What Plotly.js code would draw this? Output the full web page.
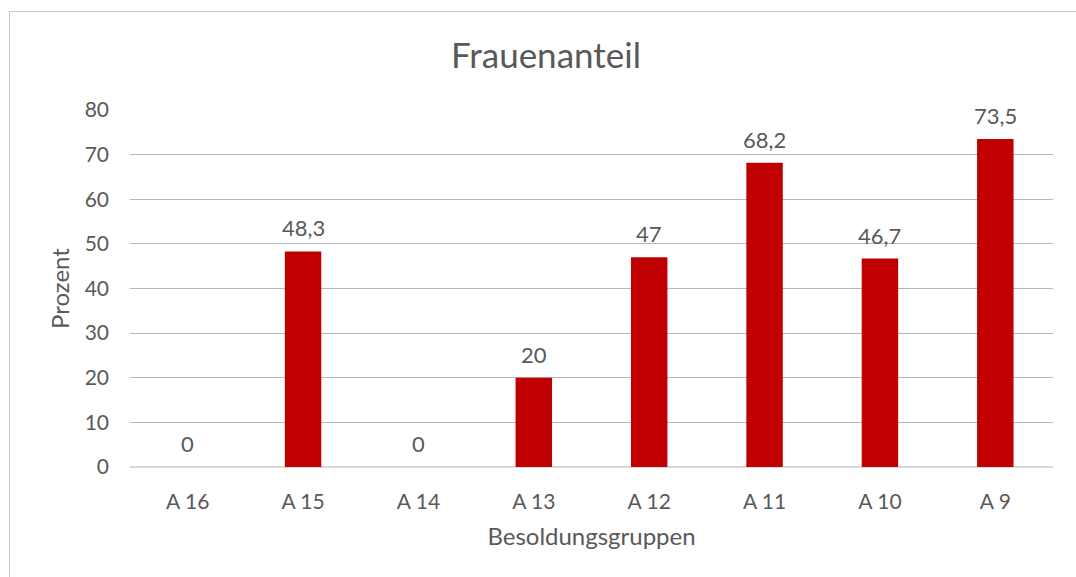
<!DOCTYPE html>
<html>
<head>
<meta charset="utf-8">
<script src="https://cdn.plot.ly/plotly-3.0.1.min.js"></script>
<style>
  body { margin: 0; background: #fff; }
  #frame { position: absolute; left: 9px; top: 11px; width: 1067px; height: 566px;
           border-left: 1px solid #c8c8c8; border-top: 1px solid #c8c8c8; }
  #chart { position: absolute; left: 0; top: 0; width: 1076px; height: 577px; }
</style>
</head>
<body>
<div id="frame"></div>
<div id="chart"></div>
<script>
var categories = ['A 16', 'A 15', 'A 14', 'A 13', 'A 12', 'A 11', 'A 10', 'A 9'];
var shares = [0, 48.3, 0, 20, 47, 68.2, 46.7, 73.5];
var yTicks = [0, 10, 20, 30, 40, 50, 60, 70, 80];

var textColor = '#595959';
var font = 'Lato, "Open Sans", sans-serif';

// Beschriftungen über den Balken (Komma als Dezimaltrennzeichen)
var labels = shares.map(function (v, i) {
  return {
    x: categories[i], y: v, xref: 'x', yref: 'y',
    text: String(v).replace('.', ','),
    showarrow: false, yanchor: 'bottom', yshift: 8,
    font: { family: font, size: 22, color: textColor }
  };
});

var data = [{
  type: 'bar',
  x: categories,
  y: shares,
  marker: { color: '#c00000' },
  hoverinfo: 'x+y'
}];

var layout = {
  width: 1076, height: 577,
  paper_bgcolor: 'rgba(0,0,0,0)', plot_bgcolor: 'rgba(0,0,0,0)',
  margin: { l: 130, r: 23, t: 110, b: 110 },
  bargap: 0.684,
  showlegend: false,
  separators: ',.',
  title: { text: 'Frauenanteil', x: 0.5074, xanchor: 'center', y: 0.903, yanchor: 'middle',
           font: { family: font, size: 35, color: textColor } },
  xaxis: {
    type: 'category',
    tickfont: { family: font, size: 21, color: textColor },
    ticklabelstandoff: 20,
    showgrid: false, showline: false, zeroline: false,
    title: { text: 'Besoldungsgruppen', standoff: 16, font: { family: font, size: 24, color: textColor } }
  },
  yaxis: {
    range: [0, 80],
    tickvals: yTicks,
    tickfont: { family: font, size: 21, color: textColor },
    ticklabelstandoff: 20,
    gridcolor: '#b8b8b8', gridwidth: 1,
    zeroline: true, zerolinecolor: '#d9d9d9', zerolinewidth: 2,
    showline: false,
    title: { text: 'Prozent', standoff: 8, font: { family: font, size: 24, color: textColor } }
  },
  annotations: labels
};

Plotly.newPlot('chart', data, layout, { displayModeBar: false, staticPlot: true });
</script>
</body>
</html>
